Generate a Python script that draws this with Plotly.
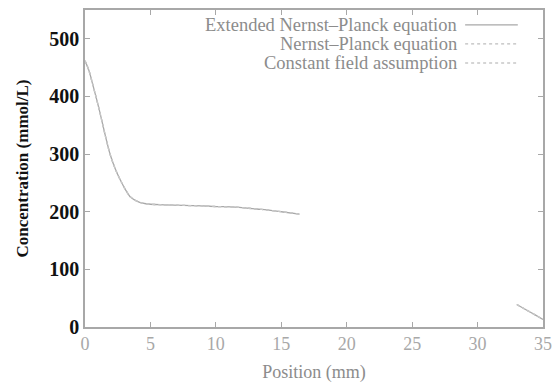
import plotly.graph_objects as go

# Data (values coincide for the three models)
position_mm = [0.0, 0.3, 0.6, 1.1, 1.5, 1.9, 2.3, 2.7, 3.1, 3.5, 4.0, 4.4, 5.0, 6.0, 7.5, 9.0, 10.0, 11.5, 12.5, 13.5, 15.0, 16.4,
               None, 33.0, 33.7, 34.4, 35.0]
ext_np = [462, 445, 420, 376, 337, 301, 275, 255, 238, 225, 218, 215, 213, 212, 211, 210, 209, 208, 206, 204, 200, 196,
          None, 39, 30, 21, 13]
np_eq = list(ext_np)
const_field = list(ext_np)

x_ticks = [0, 5, 10, 15, 20, 25, 30, 35]
y_ticks = [0, 100, 200, 300, 400, 500]
series_names = ["Extended Nernst\u2013Planck equation", "Nernst\u2013Planck equation", "Constant field assumption"]
series_dash = ["solid", "dot", "dot"]
series_color = ["#a8a8a8", "#bdbdbd", "#c8c8c8"]

fig = go.Figure()
for name, ys, dash, col in zip(series_names, [ext_np, np_eq, const_field], series_dash, series_color):
    fig.add_trace(go.Scatter(x=position_mm, y=ys, mode="lines", name=name,
                             line=dict(color=col, width=1.3, dash=dash, shape="spline", smoothing=0.8),
                             connectgaps=False, showlegend=False))

# Legend drawn gnuplot-style: right-aligned text, sample line to its right
rows_y = [0.953, 0.893, 0.833]
for name, dash, col, yy in zip(series_names, series_dash, series_color, rows_y):
    fig.add_annotation(xref="paper", yref="paper", x=0.815, y=yy, text=name, showarrow=False,
                       xanchor="right", yanchor="middle", borderpad=0,
                       font=dict(family="Liberation Serif", size=18.5, color="#8c8c8c"))
    fig.add_shape(type="line", xref="paper", yref="paper", x0=0.83, x1=0.945, y0=yy, y1=yy,
                  line=dict(color=col, width=1.4, dash=dash))

fig.update_xaxes(range=[0, 35], tickvals=x_ticks, ticks="inside", ticklen=5, tickcolor="#a8a8a8",
                 showline=True, linecolor="#a8a8a8", linewidth=1.5, mirror="allticks",
                 showgrid=False, zeroline=False, automargin=False,
                 tickfont=dict(family="Liberation Serif", size=18, color="#a8a8a8"),
                 title=dict(text="Position (mm)", font=dict(family="Liberation Serif", size=18, color="#8c8c8c"),
                            standoff=12))
fig.update_yaxes(range=[0, 550], tickvals=y_ticks, ticks="inside", ticklen=5, tickcolor="#a8a8a8",
                 showline=True, linecolor="#a8a8a8", linewidth=1.5, mirror="allticks",
                 showgrid=False, zeroline=False, automargin=False,
                 tickfont=dict(family="Liberation Serif", size=20, color="#111111", weight="bold"),
                 title=dict(text="<b>Concentration (mmol/L)</b>",
                            font=dict(family="Liberation Serif", size=17, color="#111111"), standoff=16))

fig.update_layout(width=555, height=385, margin=dict(l=85, r=12, t=10, b=58),
                  paper_bgcolor="white", plot_bgcolor="white")

fig.write_html("out.html")
